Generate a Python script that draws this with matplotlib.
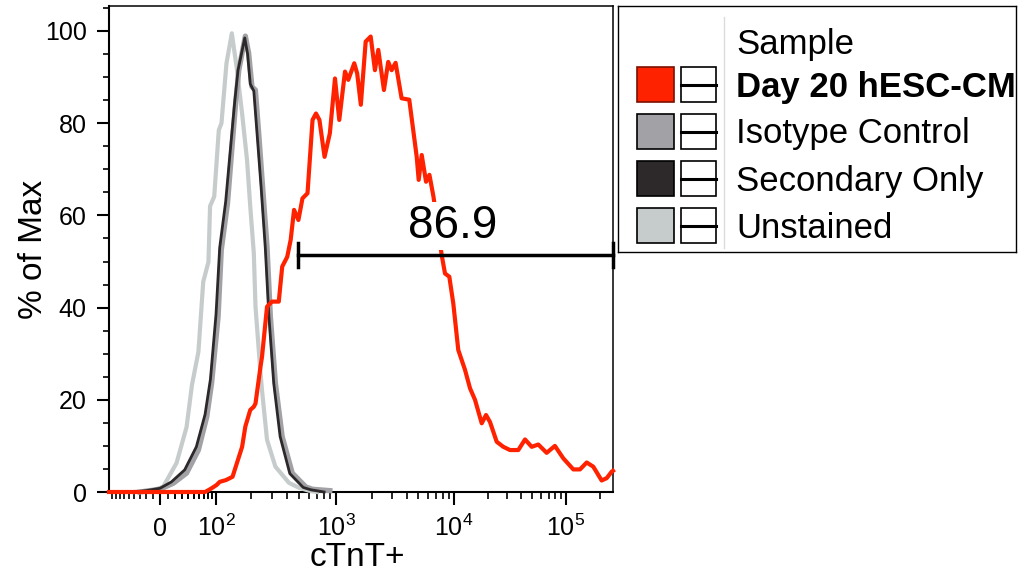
import numpy as np
import matplotlib.pyplot as plt
from matplotlib.patches import Rectangle
from matplotlib.ticker import FixedLocator, MultipleLocator, NullFormatter

plt.rcParams['font.family'] = ['Liberation Sans', 'DejaVu Sans']
plt.rcParams['mathtext.fontset'] = 'custom'
plt.rcParams['mathtext.rm'] = 'Liberation Sans'
plt.rcParams['mathtext.it'] = 'Liberation Sans:italic'
plt.rcParams['mathtext.bf'] = 'Liberation Sans:bold'

# histograms: cTnT fluorescence, % of max
day20_x = [-100, 72, 84, 101, 108, 123, 140, 169, 180, 198, 212, 219, 241, 248, 273, 300,
           341, 364, 400, 427, 455, 494, 533, 586, 644, 687, 733, 807, 891, 981, 1066,
           1192, 1271, 1428, 1512, 1624, 1785, 1968, 2138, 2283, 2549, 2771, 2960, 3200,
           3597, 4178, 4831, 5021, 5327, 5796, 6190, 6697, 7865, 8390, 9126, 9864, 10920,
           12540, 13900, 15400, 17680, 19310, 20950, 24060, 27560, 31620, 37510, 43060,
           49390, 56580, 67200, 79600, 94600, 116200, 133200, 152900, 174900, 207700,
           230300, 255000, 262143]
day20_y = [0, 0, 0.6, 1.5, 2.2, 2.6, 3.3, 9.8, 14.2, 17.8, 18.5, 19.2, 27.2, 29.3, 40.2, 41.3,
           41.3, 48.9, 51.0, 54.7, 61.2, 59.0, 63.7, 64.8, 80.7, 82.1, 80.7, 72.7, 77.8, 89.7,
           80.7, 91.2, 89.4, 93.0, 90.8, 84.0, 97.7, 98.8, 91.5, 95.9, 87.2, 93.3, 91.5, 93.1,
           85.4, 85.1, 72.7, 67.7, 73.1, 67.3, 68.8, 64.1, 51.4, 47.4, 46.7, 40.9, 30.8,
           26.5, 22.5, 20.0, 14.9, 16.7, 15.2, 10.9, 9.8, 9.1, 9.1, 11.4,
           9.8, 10.3, 8.5, 10.0, 7.3, 4.9, 4.9, 6.4, 5.5, 2.5,
           3.0, 4.4, 4.6]

iso_x = [-30, 0, 17.5, 37, 58, 76, 88, 104.5, 111.6, 126.6, 139.4, 148.8, 158.5, 180, 192,
         204.6, 218.5, 233, 251, 273, 291, 320, 364, 440, 568, 644, 891]
iso_y = [0, 0.6, 1.9, 4.1, 9.1, 16.3, 23.6, 38, 52.5, 62.6, 75.6, 84.3, 91.5, 98.9, 95.2,
         87.9, 87.2, 77.8, 66.2, 53.2, 38, 23.6, 12, 4.1, 1.1, 0.6, 0.3]

sec_x = [-40, -20, 0, 15, 34, 54, 72, 85, 100, 108, 122, 136, 146, 156, 178, 188, 198, 212,
         226, 244, 264, 283, 310, 350, 420, 540, 620, 800]
sec_y = [0, 0.3, 0.8, 2.2, 4.8, 9.8, 16.8, 24.5, 38.5, 53, 63, 76, 84.5, 91.5, 98.5, 95,
         88.5, 87, 77.5, 66, 53, 38, 23.6, 12, 4, 1, 0.5, 0]

unst_x = [-40, -10, 4, 22, 37, 46, 58, 68, 80, 84, 95, 106, 112, 124, 138, 153, 169, 186,
          198, 212, 219, 241, 248, 273, 320, 413, 501, 600, 700]
unst_y = [0, 0.4, 1.1, 6.3, 14.1, 23.2, 30.4, 45.6, 49.9, 62, 64.1, 78.5, 80, 93, 99.5,
          91.5, 82.1, 72, 61.9, 51.8, 40.2, 25.8, 22.1, 11.3, 5.5, 2.0, 0.9, 0.3, 0]

samples = ['Day 20 hESC-CM', 'Isotype Control', 'Secondary Only', 'Unstained']
colors = ['#ff2200', '#a2a2a6', '#2d292a', '#c6cbcb']

gate_lo = 490
gate_hi = 262143
gate_level = 51.4
gate_label = '86.9'

xtick_vals = [0, 1e2, 1e3, 1e4, 1e5]
xtick_labels = ['0', '$10^2$', '$10^3$', '$10^4$', '$10^5$']

# biexponential-like axis: arcsinh, then stretched per decade like the FlowJo axis
W = 50.0
scale_vals = np.array([-1e6, -100, 0, 100, 1e3, 1e4, 1e5, 262143, 1e9])
scale_pos = np.array([-214, 109, 160, 216, 336, 454, 566, 613, 1015], dtype=float)
scale_u = np.arcsinh(scale_vals / W)


def fwd(x):
    return np.interp(np.arcsinh(np.asarray(x, dtype=float) / W), scale_u, scale_pos)


def inv(p):
    return W * np.sinh(np.interp(np.asarray(p, dtype=float), scale_pos, scale_u))


fig = plt.figure(figsize=(10.21, 5.73), dpi=100)
ax = fig.add_axes([109 / 1021, 1 - 492 / 573, 504 / 1021, 486 / 573])
ax.set_xscale('function', functions=(fwd, inv))
ax.set_xlim(-100, 262143)
ax.set_ylim(0, 486 / 4.61)

ax.plot(unst_x, unst_y, color=colors[3], lw=3.0, zorder=3, clip_on=False)
ax.plot(iso_x, iso_y, color=colors[1], lw=3.8, zorder=3.1, clip_on=False)
ax.plot(sec_x, sec_y, color=colors[2], lw=2.0, zorder=3.2, clip_on=False)
ax.plot(day20_x, day20_y, color=colors[0], lw=3.0, zorder=3.3, clip_on=False)

# gate
ax.plot([gate_lo, gate_hi], [gate_level, gate_level], color='black', lw=2.5, zorder=5, clip_on=False)
for gx in (gate_lo, gate_hi):
    ax.plot([gx, gx], [gate_level - 2.6, gate_level + 2.6], color='black', lw=2.5,
            zorder=5, clip_on=False)
ax.text(9800, 57.7, gate_label, fontsize=33, ha='center', va='center', zorder=4,
        bbox=dict(boxstyle='square,pad=0.05', fc='white', ec='none'))

# ticks
minor = []
for d in (10, 100, 1000, 10000):
    minor += [k * d for k in range(2, 10)]
minor += [k * 10 for k in range(1, 10)] + [-k * 10 for k in range(1, 10)] + [2e5]
ax.xaxis.set_major_locator(FixedLocator(xtick_vals))
ax.xaxis.set_minor_locator(FixedLocator(minor))
ax.xaxis.set_major_formatter(NullFormatter())
ax.xaxis.set_minor_formatter(NullFormatter())
for v, lab in zip(xtick_vals, xtick_labels):
    ax.text(v, -0.0915, lab, transform=ax.get_xaxis_transform(), ha='center',
            va='baseline', fontsize=18)

ax.yaxis.set_major_locator(MultipleLocator(20))
ax.yaxis.set_minor_locator(MultipleLocator(5))
ax.tick_params(axis='x', which='major', length=9, width=1.5)
ax.tick_params(axis='x', which='minor', length=5, width=1.2)
ax.tick_params(axis='y', which='major', length=9, width=1.5, labelsize=18, pad=7)
ax.tick_params(axis='y', which='minor', length=4, width=1.2)
for side in ('left', 'bottom'):
    ax.spines[side].set_linewidth(1.5)
for side in ('top', 'right'):
    ax.spines[side].set_linewidth(1.1)

ax.set_xlabel('cTnT+', fontsize=24)
ax.set_ylabel('% of Max', fontsize=24)
ax.xaxis.set_label_coords(0.492, -0.102)
ax.yaxis.set_label_coords(-0.119, 0.5)

# legend panel
lax = fig.add_axes([618 / 1021, 1 - 252 / 573, 398 / 1021, 246 / 573])
lax.set_xlim(0, 398)
lax.set_ylim(246, 0)
lax.set_xticks([])
lax.set_yticks([])
for s in lax.spines.values():
    s.set_linewidth(1.0)
lax.plot([106, 106], [11, 242], color='#dcdcdc', lw=1)
lax.text(118, 48, 'Sample', fontsize=25, va='baseline')
for i, (name, c) in enumerate(zip(samples, colors)):
    y0 = 61 + 47 * i
    lax.add_patch(Rectangle((19, y0), 37, 35, fc=c, ec='#7a1000' if i == 0 else 'black', lw=1.2))
    lax.add_patch(Rectangle((63, y0), 35, 35, fc='white', ec='black', lw=1.2))
    lax.plot([63, 98], [y0 + 17.5, y0 + 17.5], color='black', lw=2.2)
    lax.text(118, y0 + 29.5, name, fontsize=25, va='baseline',
             fontweight='bold' if i == 0 else 'normal')

fig.savefig('out.png', dpi=100)
